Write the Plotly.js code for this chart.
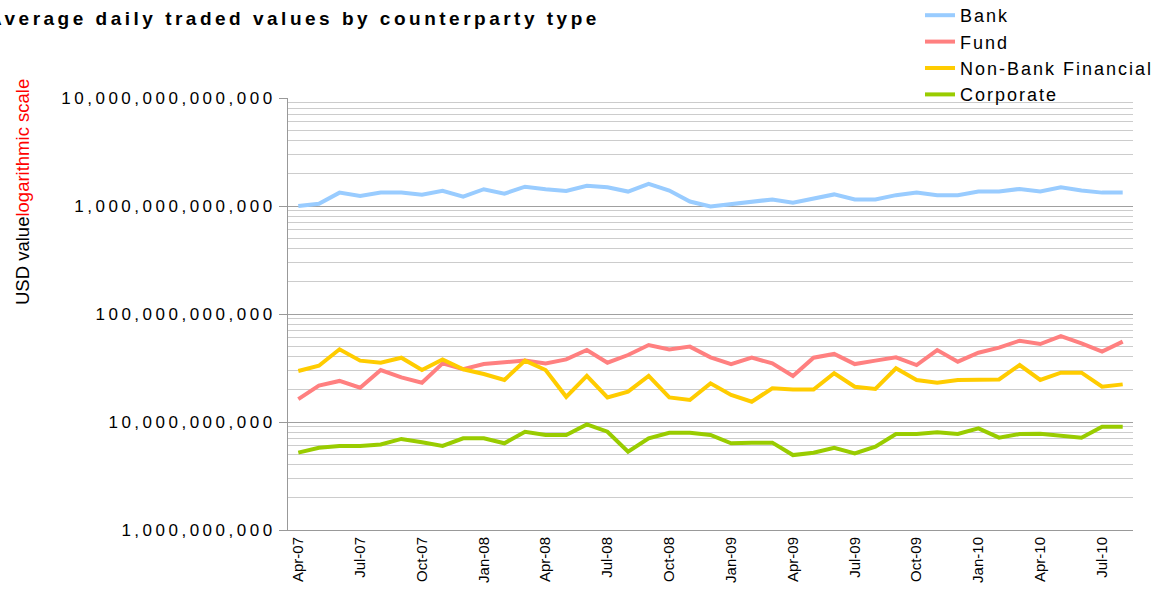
<!DOCTYPE html>
<html>
<head>
<meta charset="utf-8">
<script src="https://cdn.plot.ly/plotly-3.0.1.min.js"></script>
<style>
html,body{margin:0;padding:0;background:#fff;}
#chart{width:1164px;height:603px;}
</style>
</head>
<body>
<div id="chart"></div>
<script>
// Months (categories)
var months = ['Apr-07','May-07','Jun-07','Jul-07','Aug-07','Sep-07','Oct-07','Nov-07','Dec-07',
  'Jan-08','Feb-08','Mar-08','Apr-08','May-08','Jun-08','Jul-08','Aug-08','Sep-08','Oct-08','Nov-08','Dec-08',
  'Jan-09','Feb-09','Mar-09','Apr-09','May-09','Jun-09','Jul-09','Aug-09','Sep-09','Oct-09','Nov-09','Dec-09',
  'Jan-10','Feb-10','Mar-10','Apr-10','May-10','Jun-10','Jul-10','Aug-10'];

// Values in USD billions
var bank = [1000,1050,1330,1240,1330,1330,1270,1380,1220,1430,1300,1510,1430,1380,
  1540,1490,1360,1600,1390,1100,990,1040,1080,1150,1070,1180,1280,1150,
  1150,1260,1330,1260,1260,1360,1360,1440,1360,1490,1390,1330,1330];
var fund = [16.3,21.7,24.0,20.8,30.3,25.9,23.1,34.9,30.8,34.4,35.7,37.0,34.9,38.0,
  46.4,35.4,41.7,51.6,47.0,49.9,39.7,34.4,39.4,34.9,26.7,39.4,42.7,34.4,
  37.0,39.7,33.7,46.4,36.2,43.8,48.8,56.6,52.7,62.5,53.5,44.8,55.5];
var nonBank = [29.7,33.2,47.1,37.0,35.4,39.4,30.3,38.0,30.8,27.8,24.5,37.0,30.3,17.1,
  26.7,16.9,19.1,26.7,16.9,16.0,22.8,17.8,15.4,20.5,20.0,20.0,28.3,21.2,
  20.2,31.4,24.5,23.1,24.5,24.8,24.8,33.7,24.5,28.6,28.6,21.2,22.3];
var corporate = [5.20,5.78,6.00,6.00,6.20,6.97,6.49,6.00,7.06,7.06,6.35,8.13,7.59,7.59,
  9.50,8.13,5.31,7.06,7.96,7.96,7.59,6.35,6.44,6.44,4.94,5.20,5.78,5.13,
  5.91,7.74,7.74,8.02,7.74,8.73,7.16,7.74,7.80,7.49,7.16,9.06,9.06];

var seriesNames = ['Bank','Fund','Non-Bank Financial','Corporate'];
var seriesColors = ['#99CCFF','#FF8080','#FFCC00','#99CC00'];
var seriesData = [bank, fund, nonBank, corporate];

var xTickLabels = ['Apr-07','Jul-07','Oct-07','Jan-08','Apr-08','Jul-08','Oct-08',
  'Jan-09','Apr-09','Jul-09','Oct-09','Jan-10','Apr-10','Jul-10'];
var yTickVals = [1e9,1e10,1e11,1e12,1e13];
var yTickText = ['1,000,000,000','10,000,000,000','100,000,000,000','1,000,000,000,000','10,000,000,000,000'];

var minorVals = [];
for (var d = 9; d < 13; d++) {
  for (var m = 2; m <= 9; m++) minorVals.push(m * Math.pow(10, d));
}

var traces = seriesData.map(function(arr, i){
  return {
    type: 'scatter', mode: 'lines',
    x: months,
    y: arr.map(function(v){ return v * 1e9; }),
    name: '<span style="letter-spacing:2px">' + seriesNames[i] + '</span>',
    line: {color: seriesColors[i], width: 4}
  };
});

var font = 'Liberation Sans, Arial, sans-serif';
var L = 288, R = 31, T = 98, B = 73;
var W = 1164 - L - R, H = 603 - T - B;
function px2x(p){ return (p - L) / W; }
function py2y(p){ return (603 - B - p) / H; }

var layout = {
  width: 1164, height: 603,
  margin: {l: L, r: R, t: T, b: B, pad: 0, autoexpand: false},
  paper_bgcolor: '#fff', plot_bgcolor: '#fff',
  font: {family: font, color: '#000', size: 14},
  showlegend: true,
  legend: {
    x: px2x(920), xanchor: 'left', y: py2y(-3), yanchor: 'top',
    bgcolor: 'rgba(0,0,0,0)', font: {size: 18, color: '#000'},
    tracegroupgap: 0
  },
  xaxis: {
    type: 'category',
    range: [-0.5, months.length - 0.5],
    tickmode: 'array', tickvals: xTickLabels, ticktext: xTickLabels,
    tickangle: -90, tickfont: {size: 15, color: '#000'},
    showgrid: false, zeroline: false,
    showline: true, linecolor: '#999', linewidth: 1,
    ticks: '', fixedrange: true, automargin: false
  },
  yaxis: {
    type: 'log', range: [9, 13],
    tickmode: 'array', tickvals: yTickVals,
    ticktext: yTickText.map(function(t){ return '<span style="letter-spacing:3.5px">' + t + '</span>'; }),
    tickfont: {size: 17, color: '#000'},
    ticks: 'outside', ticklen: 8, tickcolor: '#999', tickwidth: 1,
    showgrid: true, gridcolor: '#a0a0a0', gridwidth: 1,
    minor: {tickmode: 'array', tickvals: minorVals, showgrid: true, gridcolor: '#cccccc', gridwidth: 1, ticks: ''},
    showline: true, linecolor: '#999', linewidth: 1,
    zeroline: false, fixedrange: true, automargin: false
  },
  annotations: [
    {
      xref: 'paper', yref: 'paper', x: px2x(-14), y: py2y(18),
      xanchor: 'left', yanchor: 'middle', showarrow: false,
      text: '<b><span style="letter-spacing:3.5px">Average daily traded values by counterparty type</span></b>',
      font: {size: 19, color: '#000', family: font}
    },
    {
      xref: 'paper', yref: 'paper', x: px2x(22), y: py2y(192),
      xanchor: 'center', yanchor: 'middle', showarrow: false, textangle: -90,
      text: '<span style="color:#000">USD value</span><span style="color:#FF0000">logarithmic scale</span>',
      font: {size: 18.5, color: '#000', family: font}
    }
  ]
};

Plotly.newPlot('chart', traces, layout, {displayModeBar: false, staticPlot: true});
</script>
</body>
</html>
